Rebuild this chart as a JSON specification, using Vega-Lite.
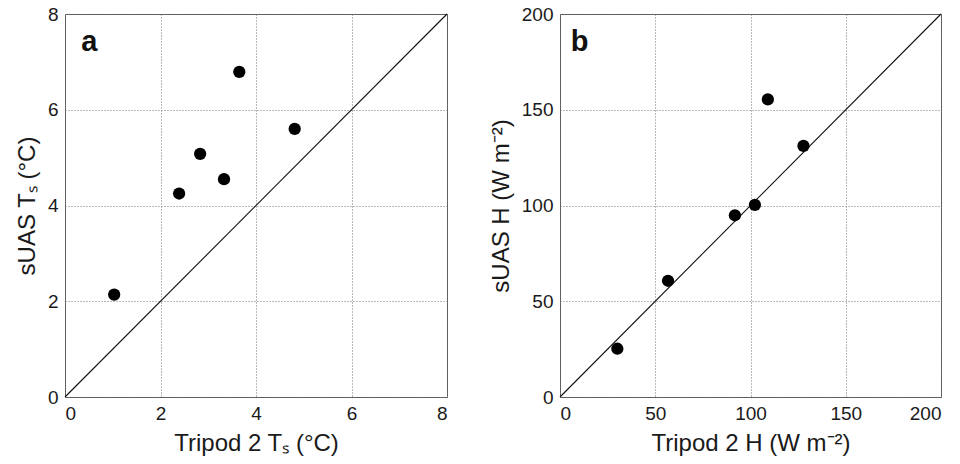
{
  "$schema": "https://vega.github.io/schema/vega-lite/v6.json",
  "padding": {"left": 14, "top": 4, "right": 0, "bottom": 0},
  "spacing": 38,
  "config": {
    "view": {"stroke": "#555", "strokeWidth": 1},
    "font": "Liberation Sans",
    "axis": {
      "grid": true,
      "gridDash": [1, 2],
      "gridColor": "#777",
      "gridWidth": 1,
      "gridOpacity": 1,
      "domain": false,
      "ticks": false,
      "labelFont": "Liberation Sans",
      "labelFontSize": 19,
      "labelColor": "#1a1a1a",
      "labelPadding": 7,
      "titleFont": "Liberation Sans",
      "titleFontSize": 24,
      "titleFontWeight": "normal",
      "titleColor": "#1a1a1a",
      "titlePadding": 8
    }
  },
  "datasets": {
    "ts": [
      {"tripod": 1.03, "suas": 2.14},
      {"tripod": 2.39, "suas": 4.25},
      {"tripod": 2.83, "suas": 5.08},
      {"tripod": 3.33, "suas": 4.55},
      {"tripod": 3.65, "suas": 6.79},
      {"tripod": 4.81, "suas": 5.6}
    ],
    "ts_line": [{"tripod": 0, "suas": 0}, {"tripod": 8, "suas": 8}],
    "h": [
      {"tripod": 30.1, "suas": 25.2},
      {"tripod": 56.7, "suas": 60.7},
      {"tripod": 91.8, "suas": 94.9},
      {"tripod": 102.3, "suas": 100.3},
      {"tripod": 109.1, "suas": 155.4},
      {"tripod": 127.8, "suas": 131.1}
    ],
    "h_line": [{"tripod": 0, "suas": 0}, {"tripod": 200, "suas": 200}],
    "label_a": [{"tripod": 0.34, "suas": 7.42, "label": "a"}],
    "label_b": [{"tripod": 5.6, "suas": 185.5, "label": "b"}]
  },
  "hconcat": [
    {
      "width": 382,
      "height": 383,
      "layer": [
        {
          "data": {"name": "ts_line"},
          "mark": {"type": "line", "color": "#111", "strokeWidth": 1.1},
          "encoding": {
            "x": {"field": "tripod", "type": "quantitative", "scale": {"domain": [0, 8], "nice": false}, "axis": {"values": [0, 2, 4, 6, 8], "title": "Tripod 2 Tₛ (°C)"}},
            "y": {"field": "suas", "type": "quantitative", "scale": {"domain": [0, 8], "nice": false}, "axis": {"values": [0, 2, 4, 6, 8], "title": "sUAS Tₛ (°C)"}}
          }
        },
        {
          "data": {"name": "ts"},
          "mark": {"type": "circle", "color": "#000", "opacity": 1, "size": 150},
          "encoding": {
            "x": {"field": "tripod", "type": "quantitative"},
            "y": {"field": "suas", "type": "quantitative"}
          }
        },
        {
          "data": {"name": "label_a"},
          "mark": {"type": "text", "fontSize": 29, "fontWeight": "bold", "align": "left", "baseline": "middle", "color": "#111"},
          "encoding": {
            "x": {"field": "tripod", "type": "quantitative"},
            "y": {"field": "suas", "type": "quantitative"},
            "text": {"field": "label"}
          }
        }
      ]
    },
    {
      "width": 381,
      "height": 383,
      "layer": [
        {
          "data": {"name": "h_line"},
          "mark": {"type": "line", "color": "#111", "strokeWidth": 1.1},
          "encoding": {
            "x": {"field": "tripod", "type": "quantitative", "scale": {"domain": [0, 200], "nice": false}, "axis": {"values": [0, 50, 100, 150, 200], "title": "Tripod 2 H (W m⁻²)"}},
            "y": {"field": "suas", "type": "quantitative", "scale": {"domain": [0, 200], "nice": false}, "axis": {"values": [0, 50, 100, 150, 200], "title": "sUAS H (W m⁻²)"}}
          }
        },
        {
          "data": {"name": "h"},
          "mark": {"type": "circle", "color": "#000", "opacity": 1, "size": 150},
          "encoding": {
            "x": {"field": "tripod", "type": "quantitative"},
            "y": {"field": "suas", "type": "quantitative"}
          }
        },
        {
          "data": {"name": "label_b"},
          "mark": {"type": "text", "fontSize": 29, "fontWeight": "bold", "align": "left", "baseline": "middle", "color": "#111"},
          "encoding": {
            "x": {"field": "tripod", "type": "quantitative"},
            "y": {"field": "suas", "type": "quantitative"},
            "text": {"field": "label"}
          }
        }
      ]
    }
  ]
}
